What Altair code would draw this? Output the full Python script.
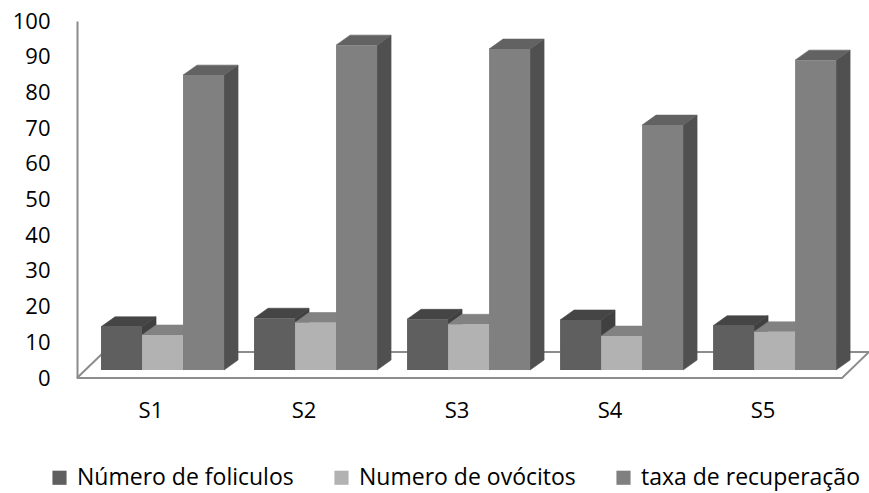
import json
import altair as alt
import pandas as pd

# ---- data ----
CATEGORIES = ["S1", "S2", "S3", "S4", "S5"]
SERIES = ["Número de foliculos", "Numero de ovócitos", "taxa de recuperação"]
FOLICULOS = [12.1, 14.5, 14.2, 14.0, 12.4]
OVOCITOS = [9.8, 13.3, 12.8, 9.5, 10.7]
TAXA = [82.6, 91.0, 89.9, 68.6, 86.8]
Y_TICKS = [0, 10, 20, 30, 40, 50, 60, 70, 80, 90, 100]

# ---- styles ----
FRONT = ["#5f5f5f", "#b2b2b2", "#808080"]
TOP = ["#454545", "#828282", "#626262"]
SIDE = ["#404040", "#8a8a8a", "#505050"]
FONT = "Open Sans"
FS = 22

# ---- pseudo-3D geometry (in scale units) ----
BAR_W = 0.268
GROUP_OFF = 0.157
DEPTH_X = 0.0915
DEPTH_Y = 2.8
BASE = 2.24
FLOOR_X = 0.176
FLOOR_Y = 7.3

values_by_series = [FOLICULOS, OVOCITOS, TAXA]

fronts, sides, tops = [], [], []
for i, cat in enumerate(CATEGORIES):
    for k, (name, vals) in enumerate(zip(SERIES, values_by_series)):
        v = vals[i]
        x0 = i + GROUP_OFF + k * BAR_W
        x1 = x0 + BAR_W
        t = BASE + v
        bid = f"{i}-{k}"
        fronts.append({"series": name, "cat": cat, "value": v,
                       "x0": x0, "x1": x1, "y0": BASE, "y1": t})
        sides += [
            {"id": bid, "x": x1, "lo": BASE, "hi": t, "fc": SIDE[k]},
            {"id": bid, "x": x1 + DEPTH_X, "lo": BASE + DEPTH_Y, "hi": t + DEPTH_Y, "fc": SIDE[k]},
        ]
        tops += [
            {"id": bid, "x": x0, "lo": t, "hi": t, "fc": TOP[k]},
            {"id": bid, "x": x0 + DEPTH_X, "lo": t, "hi": t + DEPTH_Y, "fc": TOP[k]},
            {"id": bid, "x": x1, "lo": t, "hi": t + DEPTH_Y, "fc": TOP[k]},
            {"id": bid, "x": x1 + DEPTH_X, "lo": t + DEPTH_Y, "hi": t + DEPTH_Y, "fc": TOP[k]},
        ]

n = len(CATEGORIES)
floor = pd.DataFrame({
    "x": [0, n, n + FLOOR_X, FLOOR_X, 0],
    "y": [0, 0, FLOOR_Y, FLOOR_Y, 0],
    "o": [0, 1, 2, 3, 4],
})

xscale = alt.Scale(domain=[0, n + FLOOR_X], nice=False, zero=False)
yscale = alt.Scale(domain=[0, 100], nice=False)

label_expr = json.dumps(CATEGORIES) + "[floor(datum.value)]"

x_axis = alt.Axis(values=[i + 0.48 for i in range(n)], labelExpr=label_expr,
                  domain=False, ticks=False, grid=False, title=None,
                  labelFont=FONT, labelFontSize=FS, labelColor="#000000",
                  labelPadding=22, labelOverlap=False)
y_axis = alt.Axis(values=Y_TICKS, domain=True, domainColor="#8c8c8c", domainWidth=2,
                  ticks=False, grid=False, title=None, labelFont=FONT,
                  labelFontSize=FS, labelColor="#000000", labelPadding=27,
                  labelOverlap=False)

floor_layer = alt.Chart(floor).mark_line(color="#8c8c8c", strokeWidth=2).encode(
    x=alt.X("x:Q", scale=xscale, axis=x_axis),
    y=alt.Y("y:Q", scale=yscale, axis=y_axis),
    order="o:Q",
)

side_layer = alt.Chart(pd.DataFrame(sides)).mark_area(orient="vertical", strokeWidth=0.6).encode(
    x=alt.X("x:Q", scale=xscale, axis=x_axis),
    y=alt.Y("lo:Q", scale=yscale, axis=y_axis),
    y2="hi:Q",
    detail="id:N",
    fill=alt.Fill("fc:N", scale=None),
    stroke=alt.Stroke("fc:N", scale=None),
)

top_layer = alt.Chart(pd.DataFrame(tops)).mark_area(orient="vertical", strokeWidth=0.6).encode(
    x=alt.X("x:Q", scale=xscale, axis=x_axis),
    y=alt.Y("lo:Q", scale=yscale, axis=y_axis),
    y2="hi:Q",
    detail="id:N",
    fill=alt.Fill("fc:N", scale=None),
    stroke=alt.Stroke("fc:N", scale=None),
)

front_layer = alt.Chart(pd.DataFrame(fronts)).mark_rect(strokeWidth=0).encode(
    x=alt.X("x0:Q", scale=xscale, axis=x_axis),
    x2="x1:Q",
    y=alt.Y("y0:Q", scale=yscale, axis=y_axis),
    y2="y1:Q",
    color=alt.Color("series:N", scale=alt.Scale(domain=SERIES, range=FRONT),
                    legend=alt.Legend(orient="none", legendX=-29, legendY=445,
                                      direction="horizontal", title=None,
                                      padding=0, offset=0,
                                      symbolType="square", symbolSize=200,
                                      symbolStrokeWidth=0, symbolOpacity=1,
                                      labelFont=FONT, labelFontSize=23,
                                      labelColor="#000000", labelOffset=6,
                                      labelLimit=400, columnPadding=34,
                                      gridAlign="all")),
)

chart = alt.layer(floor_layer, side_layer, top_layer, front_layer).properties(
    width=792, height=357,
    autosize=alt.AutoSizeParams(type="none"),
    padding={"left": 77, "top": 21, "right": 0, "bottom": 115},
    background="#ffffff",
).configure_view(stroke=None).configure_axisY(labelOverlap=False)

chart.save("out.html", embed_options={"renderer": "svg", "actions": False})
